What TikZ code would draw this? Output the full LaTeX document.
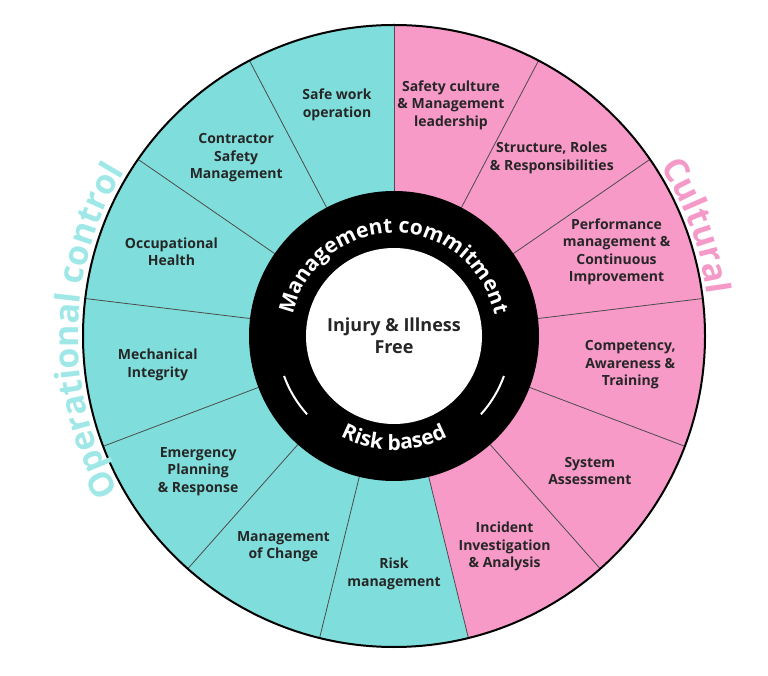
\documentclass[tikz,border=0pt]{standalone}
\usepackage{fontspec}
\setmainfont{Open Sans}
\usetikzlibrary{decorations.text,calc}
\definecolor{cy}{HTML}{7FDEDB}
\definecolor{pk}{HTML}{F79AC8}
\definecolor{cyl}{HTML}{A0E8E8}
\definecolor{pkl}{HTML}{F59AC8}
\begin{document}
\begin{tikzpicture}[x=1pt,y=1pt,
  lab/.style={align=center,font=\fontsize{14}{17.5}\selectfont\bfseries,text=black!85}]
\useasboundingbox (0,0) rectangle (768,675);
\coordinate (C) at (394,339);
\def\st{27.6923}
\fill[cy] (C) -- ++(90:311) arc[start angle=90,end angle=283.846,radius=311] -- cycle;
\fill[pk] (C) -- ++(-76.154:311) arc[start angle=-76.154,end angle=90,radius=311] -- cycle;
\foreach \i in {0,...,12}{
  \draw[black!70,line width=0.8pt] (C) ++({90+\st*\i}:145) -- ++({90+\st*\i}:166);
}
\draw[black,line width=2pt] (C) circle[radius=311];
\fill[black] (C) circle[radius=145];
\fill[white] (C) circle[radius=88];
\draw[white,line width=2pt] (C) ++(200:117) arc[start angle=200,end angle=222,radius=117];
\draw[white,line width=2pt] (C) ++(318:117) arc[start angle=318,end angle=340,radius=117];
\node[lab,font=\fontsize{18}{22}\selectfont\bfseries] (core) at (C) {Injury \& Illness\\Free};
\path[decorate,decoration={text along path,text align=center,
  text={|\fontsize{21}{24}\selectfont\bfseries\color{white}|Management commitment}}]
  (C) ++(178:103) arc[start angle=178,end angle=2,radius=103];
\path[decorate,decoration={text along path,text align=center,
  text={|\fontsize{21}{24}\selectfont\bfseries\color{white}|Risk based}}]
  (C) ++(230:114) arc[start angle=230,end angle=310,radius=114];
\path[decorate,decoration={text along path,text align=center,
  text={|\fontsize{34}{40}\selectfont\bfseries\color{cyl}|Operational control}}]
  (C) ++(222:316) arc[start angle=222,end angle=136,radius=316];
\path[decorate,decoration={text along path,text align=center,
  text={|\fontsize{34}{40}\selectfont\bfseries\color{pkl}|Cultural}}]
  (C) ++(45:316) arc[start angle=45,end angle=-5,radius=316];
\foreach \n/\t [count=\k from 0] in {
  c1/{Safe work\\operation},
  c2/{Contractor\\Safety\\Management},
  c3/{Occupational\\Health},
  c4/{Mechanical\\Integrity},
  c5/{Emergency\\Planning\\\& Response},
  c6/{Management\\of Change},
  c7/{Risk\\management}}{
  \node[lab] (\n) at ($(C)+({90+\st*(\k+0.5)}:238)$) {\t};
}
\foreach \n/\t [count=\k from 0] in {
  p1/{Safety culture\\\& Management\\leadership},
  p2/{Structure, Roles\\\& Responsibilities},
  p3/{Performance\\management \&\\Continuous\\Improvement},
  p4/{Competency,\\Awareness \&\\Training},
  p5/{System\\Assessment},
  p6/{Incident\\Investigation\\\& Analysis}}{
  \node[lab] (\n) at ($(C)+({90-\st*(\k+0.5)}:238)$) {\t};
}
\end{tikzpicture}
\end{document}
